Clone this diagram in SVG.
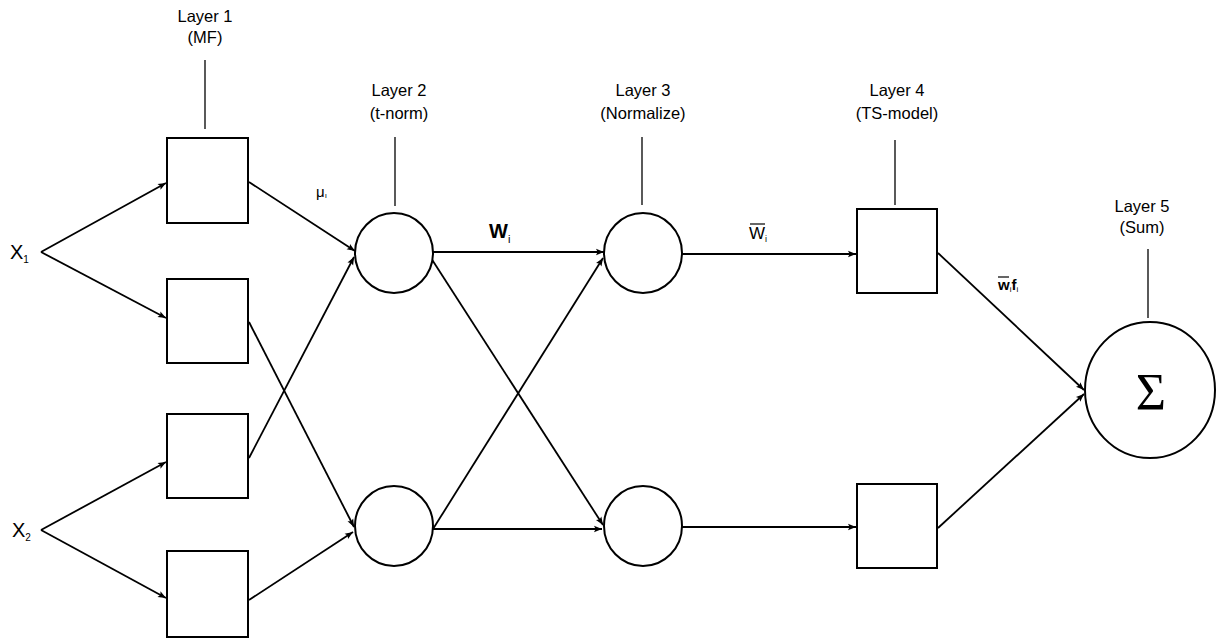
<svg xmlns="http://www.w3.org/2000/svg" width="1220" height="640" viewBox="0 0 1220 640">
<style>
  .node { fill: #fff; stroke: #000; stroke-width: 2; }
  .conn { fill: none; stroke: #000; stroke-width: 1.8; }
  .lead { fill: none; stroke: #000; stroke-width: 1.3; }
  .lbl { font-family: "Liberation Sans", Arial, sans-serif; font-size: 16.5px; fill: #000; text-anchor: middle; }
  .sym { font-family: "Liberation Sans", Arial, sans-serif; fill: #000; }
</style>
<defs>
  <marker id="arr" viewBox="0 0 10 10" refX="10" refY="5" markerWidth="9" markerHeight="8" markerUnits="userSpaceOnUse" orient="auto">
    <path d="M0,1 L10,5 L0,9 L2,5 Z" fill="#000"/>
  </marker>
</defs>
<rect width="1220" height="640" fill="#fff"/>

<g id="connectors">
  <path class="conn" d="M41,252 L166,183" marker-end="url(#arr)"/>
  <path class="conn" d="M41,252 L166,318" marker-end="url(#arr)"/>
  <path class="conn" d="M41,530 L166,462" marker-end="url(#arr)"/>
  <path class="conn" d="M41,530 L166,598" marker-end="url(#arr)"/>
  <path class="conn" d="M249,182 L355,251" marker-end="url(#arr)"/>
  <path class="conn" d="M249,322 L354,527" marker-end="url(#arr)"/>
  <path class="conn" d="M249,458 L354,257" marker-end="url(#arr)"/>
  <path class="conn" d="M249,600 L353,532" marker-end="url(#arr)"/>
  <path class="conn" d="M433,252 L604,252" marker-end="url(#arr)"/>
  <path class="conn" d="M431,258 L603,525" marker-end="url(#arr)"/>
  <path class="conn" d="M433,529 L603,258" marker-end="url(#arr)"/>
  <path class="conn" d="M433,529 L602,529" marker-end="url(#arr)"/>
  <path class="conn" d="M682,254 L856,254" marker-end="url(#arr)"/>
  <path class="conn" d="M682,527 L856,527" marker-end="url(#arr)"/>
  <path class="conn" d="M938,253 L1084,390" marker-end="url(#arr)"/>
  <path class="conn" d="M938,528 L1084,394" marker-end="url(#arr)"/>
  <g id="leaders">
    <line class="lead" x1="205" y1="60" x2="205" y2="129"/>
    <line class="lead" x1="395" y1="137" x2="395" y2="206"/>
    <line class="lead" x1="642" y1="137" x2="642" y2="205"/>
    <line class="lead" x1="895" y1="140" x2="895" y2="205"/>
    <line class="lead" x1="1148" y1="249" x2="1148" y2="318"/>
  </g>
</g>

<g id="input-x1"><text class="sym" x="10" y="259" font-size="20">X<tspan font-size="10" dy="4">1</tspan></text></g>
<g id="input-x2"><text class="sym" x="12" y="537" font-size="20">X<tspan font-size="10" dy="4">2</tspan></text></g>

<g id="layer1-label">
  <text class="lbl" x="205" y="22">Layer 1</text>
  <text class="lbl" x="205" y="43">(MF)</text>
</g>
<g id="mf1"><rect class="node" x="167" y="138" width="81" height="85"/></g>
<g id="mf2"><rect class="node" x="167" y="279" width="81" height="84"/></g>
<g id="mf3"><rect class="node" x="167" y="414" width="81" height="84"/></g>
<g id="mf4"><rect class="node" x="167" y="551" width="81" height="86"/></g>

<g id="layer2-label">
  <text class="lbl" x="399" y="96">Layer 2</text>
  <text class="lbl" x="399" y="119">(t-norm)</text>
</g>
<g id="tnorm1"><ellipse class="node" cx="394" cy="253" rx="39" ry="40"/></g>
<g id="tnorm2"><ellipse class="node" cx="394" cy="526" rx="39" ry="40"/></g>

<g id="layer3-label">
  <text class="lbl" x="643" y="96">Layer 3</text>
  <text class="lbl" x="643" y="119">(Normalize)</text>
</g>
<g id="norm1"><ellipse class="node" cx="643" cy="253" rx="39" ry="40"/></g>
<g id="norm2"><ellipse class="node" cx="643" cy="526" rx="39" ry="40"/></g>

<g id="layer4-label">
  <text class="lbl" x="897" y="96">Layer 4</text>
  <text class="lbl" x="897" y="119">(TS-model)</text>
</g>
<g id="ts1"><rect class="node" x="857" y="209" width="80" height="84"/></g>
<g id="ts2"><rect class="node" x="857" y="484" width="80" height="84"/></g>

<g id="layer5-label">
  <text class="lbl" x="1142" y="212">Layer 5</text>
  <text class="lbl" x="1142" y="233">(Sum)</text>
</g>
<g id="sum">
  <ellipse class="node" cx="1150" cy="390" rx="65" ry="68"/>
  <text x="1151" y="410" font-family="'Liberation Serif', 'Times New Roman', serif" font-size="52" text-anchor="middle">Σ</text>
</g>

<g id="edge-labels">
  <text class="sym" x="316" y="197" font-size="15">μ<tspan font-size="8" dy="1">ı</tspan></text>
  <text class="sym" x="489" y="238" font-size="20" font-weight="bold">W<tspan font-size="11" font-weight="normal" dy="5">i</tspan></text>
  <text class="sym" x="749" y="239" font-size="17">W<tspan font-size="9" dy="3">i</tspan></text>
  <line x1="750" y1="224" x2="765" y2="224" stroke="#000" stroke-width="1.2"/>
  <text class="sym" x="998" y="290" font-size="15" font-weight="bold">w<tspan font-size="8" font-weight="normal" dy="2">i</tspan><tspan dy="-2">f</tspan><tspan font-size="8" font-weight="normal" dy="2">i</tspan></text>
  <line x1="998" y1="277" x2="1009" y2="277" stroke="#000" stroke-width="1.2"/>
</g>
</svg>
